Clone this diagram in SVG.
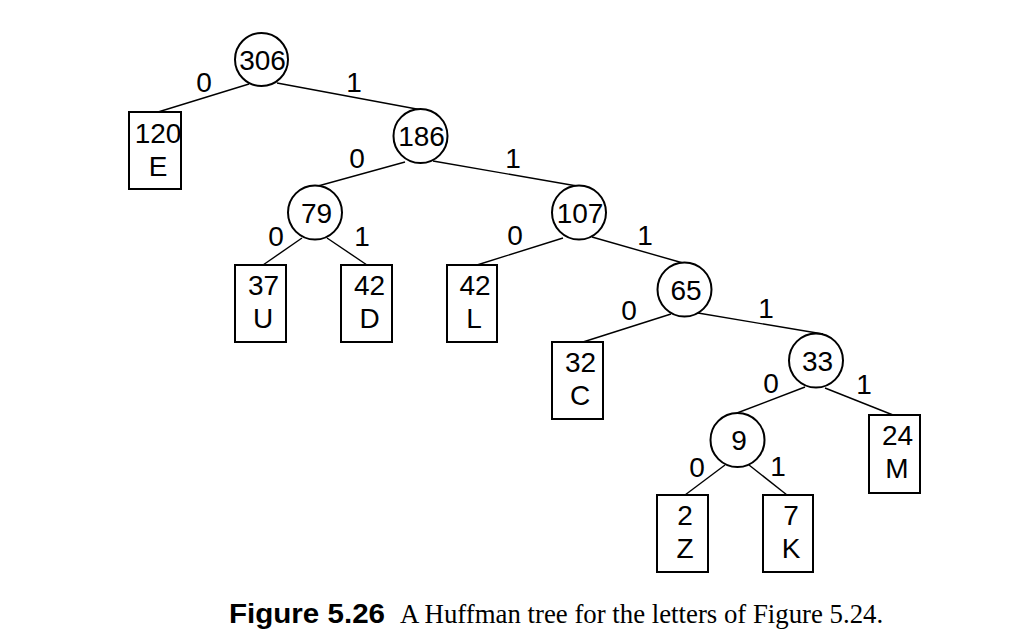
<svg xmlns="http://www.w3.org/2000/svg" width="1014" height="640" viewBox="0 0 1014 640">
<style>
.n{fill:#fff;stroke:#000;stroke-width:2}
.e{stroke:#000;stroke-width:1.4;fill:none}
text{font-family:"Liberation Sans",Arial,sans-serif;font-size:28px;fill:#000;text-anchor:middle}
.cap{text-anchor:start}
</style>
<rect width="1014" height="640" fill="#fff"/>
<g id="connectors">
<line class="e" x1="249" y1="84" x2="158" y2="112"/>
<line class="e" x1="277" y1="83" x2="422" y2="110"/>
<line class="e" x1="405" y1="162" x2="318" y2="186"/>
<line class="e" x1="433" y1="161" x2="577" y2="186"/>
<line class="e" x1="302" y1="238" x2="263" y2="265"/>
<line class="e" x1="327" y1="238" x2="367" y2="265"/>
<line class="e" x1="563" y1="238" x2="477" y2="265"/>
<line class="e" x1="592" y1="237" x2="683" y2="263"/>
<line class="e" x1="671" y1="314" x2="583" y2="342"/>
<line class="e" x1="698" y1="313" x2="823" y2="334"/>
<line class="e" x1="805" y1="387" x2="737" y2="413"/>
<line class="e" x1="825" y1="388" x2="893" y2="415"/>
<line class="e" x1="725" y1="465" x2="685" y2="495"/>
<line class="e" x1="749" y1="465" x2="787" y2="495"/>
<text x="204" y="92">0</text>
<text x="354" y="92">1</text>
<text x="357" y="168">0</text>
<text x="513" y="168">1</text>
<text x="276" y="246">0</text>
<text x="362" y="246">1</text>
<text x="515" y="245">0</text>
<text x="645" y="245">1</text>
<text x="629" y="320">0</text>
<text x="766" y="318">1</text>
<text x="771" y="393">0</text>
<text x="864" y="394">1</text>
<text x="697" y="477">0</text>
<text x="778" y="476">1</text>
</g>
<g id="n306"><circle class="n" cx="261.5" cy="59.5" r="26.5"/><text x="262.5" y="70">306</text></g>
<g id="n186"><circle class="n" cx="420.5" cy="136" r="27"/><text x="421.5" y="146">186</text></g>
<g id="n79"><circle class="n" cx="315" cy="212.5" r="27"/><text x="316.5" y="222.5">79</text></g>
<g id="n107"><circle class="n" cx="579" cy="212.5" r="27"/><text x="580" y="222.5">107</text></g>
<g id="n65"><circle class="n" cx="684.5" cy="289.5" r="27"/><text x="686" y="299.5">65</text></g>
<g id="n33"><circle class="n" cx="816" cy="360.5" r="27"/><text x="817.5" y="370.5">33</text></g>
<g id="n9"><circle class="n" cx="737.5" cy="440" r="27"/><text x="739" y="450">9</text></g>
<g id="leafE"><rect class="n" x="129" y="112" width="52" height="77"/><text x="158" y="143">120</text><text x="158" y="176">E</text></g>
<g id="leafU"><rect class="n" x="235" y="265" width="51" height="77"/><text x="263.5" y="295">37</text><text x="263" y="328">U</text></g>
<g id="leafD"><rect class="n" x="341" y="265" width="51" height="77"/><text x="369.5" y="295">42</text><text x="369.5" y="328">D</text></g>
<g id="leafL"><rect class="n" x="447" y="265" width="50" height="77"/><text x="475" y="295">42</text><text x="474" y="328">L</text></g>
<g id="leafC"><rect class="n" x="552" y="342" width="51" height="77"/><text x="580.5" y="372">32</text><text x="580" y="405">C</text></g>
<g id="leafM"><rect class="n" x="869" y="415" width="51" height="78"/><text x="897.5" y="445">24</text><text x="897" y="478">M</text></g>
<g id="leafZ"><rect class="n" x="657" y="495" width="51" height="77"/><text x="685" y="525">2</text><text x="685" y="558">Z</text></g>
<g id="leafK"><rect class="n" x="763" y="495" width="50" height="77"/><text x="791" y="525">7</text><text x="791" y="558">K</text></g>
<g id="caption">
<text class="cap" x="229" y="623" font-weight="bold" textLength="156" lengthAdjust="spacingAndGlyphs" style="font-size:27px">Figure 5.26</text>
<text class="cap" x="400" y="623" style="font-family:'Liberation Serif','Times New Roman',serif;font-size:26.8px">A Huffman tree for the letters of Figure 5.24.</text>
</g>
</svg>
